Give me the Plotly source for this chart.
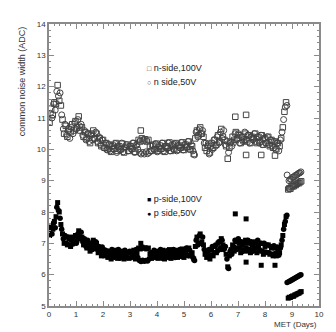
import plotly.graph_objects as go

# measurement times (days) for the 100V and 50V runs
x_100 = [0.02,0.08,0.14,0.20,0.26,0.32,0.38,0.44,0.50,0.56,0.62,0.68,0.74,0.80,0.86,0.92,0.98,1.04,1.10,1.16,
         1.22,1.28,1.34,1.40,1.46,1.52,1.58,1.64,1.70,1.76,1.82,1.88,1.94,2.00,2.06,2.12,2.18,2.24,2.30,2.36,
         2.42,2.48,2.54,2.60,2.66,2.72,2.78,2.84,2.90,2.96,3.02,3.08,3.14,3.20,3.26,3.32,3.38,3.44,3.50,3.56,
         3.62,3.68,3.74,3.80,3.86,3.92,3.98,4.04,4.10,4.16,4.22,4.28,4.34,4.40,4.46,4.52,4.58,4.64,4.70,4.76,
         4.82,4.88,4.94,5.00,5.06,5.12,5.18,5.24,5.30,5.36,5.42,5.48,5.54,5.60,5.66,5.72,5.78,5.84,5.90,5.96,
         6.02,6.08,6.14,6.20,6.26,6.32,6.38,6.44,6.50,6.56,6.62,6.68,6.74,6.80,6.86,6.92,6.98,7.04,7.10,7.16,
         7.22,7.28,7.34,7.40,7.46,7.52,7.58,7.64,7.70,7.76,7.82,7.88,7.94,8.00,8.06,8.12,8.18,8.24,8.30,8.36,
         8.42,8.48,8.54,8.60,8.66,8.72,8.78,
         8.86,8.90,8.94,8.98,9.02,9.06,9.10,9.14,9.18,9.22,9.26,9.30,9.34,
         3.40,6.90,7.30,7.30,7.86,8.37]
x_50 = [0.05,0.11,0.17,0.23,0.29,0.35,0.41,0.47,0.53,0.59,0.65,0.71,0.77,0.83,0.89,0.95,1.01,1.07,1.13,1.19,
        1.25,1.31,1.37,1.43,1.49,1.55,1.61,1.67,1.73,1.79,1.85,1.91,1.97,2.03,2.09,2.15,2.21,2.27,2.33,2.39,
        2.45,2.51,2.57,2.63,2.69,2.75,2.81,2.87,2.93,2.99,3.05,3.11,3.17,3.23,3.29,3.35,3.41,3.47,3.53,3.59,
        3.65,3.71,3.77,3.83,3.89,3.95,4.01,4.07,4.13,4.19,4.25,4.31,4.37,4.43,4.49,4.55,4.61,4.67,4.73,4.79,
        4.85,4.91,4.97,5.03,5.09,5.15,5.21,5.27,5.33,5.39,5.45,5.51,5.57,5.63,5.69,5.75,5.81,5.87,5.93,5.99,
        6.05,6.11,6.17,6.23,6.29,6.35,6.41,6.47,6.53,6.59,6.65,6.71,6.77,6.83,6.89,6.95,7.01,7.07,7.13,7.19,
        7.25,7.31,7.37,7.43,7.49,7.55,7.61,7.67,7.73,7.79,7.85,7.91,7.97,8.03,8.09,8.15,8.21,8.27,8.33,8.39,
        8.45,8.51,8.57,8.63,8.69,8.75,8.81,
        8.82,8.89,8.93,8.97,9.01,9.05,9.09,9.13,9.17,9.21,9.25,9.29,9.33]

n_100 = [10.85,11.30,11.10,11.50,11.45,12.05,11.55,11.40,10.95,10.50,10.75,10.40,10.65,10.55,10.80,10.60,10.90,10.70,11.05,10.60,
         10.70,10.40,10.55,10.35,10.50,10.20,10.50,10.60,10.35,10.50,10.20,10.35,10.10,10.30,10.05,10.20,10.00,10.15,9.92,10.12,
         10.02,10.20,9.95,10.10,10.00,10.18,9.90,10.08,10.15,9.95,10.10,10.02,10.20,9.92,10.15,10.30,10.25,10.35,10.28,10.32,
         10.25,10.30,10.10,9.95,10.15,10.00,10.18,9.95,10.12,10.02,10.20,9.92,10.10,10.05,10.22,9.95,10.15,10.00,10.20,9.98,
         10.12,10.05,10.22,9.98,10.15,10.08,10.25,10.00,10.10,9.85,10.35,10.60,10.45,10.70,10.50,10.40,10.05,9.95,10.15,9.90,
         10.20,10.05,10.30,10.15,10.45,10.25,10.65,10.40,10.30,10.10,9.70,10.05,10.25,10.40,10.30,10.55,10.35,10.45,10.20,10.40,
         10.30,10.50,10.25,10.45,10.20,10.40,10.35,10.50,10.20,10.40,10.25,10.45,10.15,10.35,10.20,10.40,10.10,10.30,10.05,10.25,
         10.00,10.20,10.10,10.35,10.70,11.20,11.50,
         8.72,8.76,8.74,8.80,8.83,8.82,8.87,8.86,8.90,8.93,8.92,8.96,8.98,
         10.60,11.04,11.10,9.82,9.82,9.80]
n_50 = [11.15,11.00,11.45,11.25,11.85,11.70,11.80,11.10,10.65,10.80,10.45,10.60,10.35,10.70,10.50,10.85,10.65,10.95,10.75,10.80,
        10.45,10.60,10.30,10.50,10.25,10.45,10.30,10.35,10.55,10.25,10.40,10.15,10.30,10.05,10.20,9.98,10.15,9.95,10.10,10.00,
        10.18,9.90,10.08,9.98,10.20,9.92,10.05,10.15,9.95,10.10,10.00,10.20,9.90,10.12,10.00,9.90,9.85,9.90,9.85,9.92,
        9.86,9.90,9.95,10.12,10.00,10.18,9.92,10.08,10.00,10.20,9.95,10.10,10.02,10.20,9.95,10.12,10.00,10.18,9.95,10.12,
        10.05,10.22,9.98,10.15,10.05,10.25,10.00,10.15,9.95,9.82,10.55,10.40,10.65,10.50,10.60,10.20,10.20,10.10,9.85,10.10,
        10.00,10.30,10.10,10.40,10.20,10.55,10.35,10.60,10.15,10.25,9.90,10.20,10.10,10.20,10.50,10.30,10.50,10.20,10.40,10.25,
        10.55,10.30,10.45,10.20,10.40,10.30,10.50,10.25,10.40,10.20,10.45,10.15,10.35,10.20,10.40,10.15,10.30,10.10,10.25,10.00,
        10.20,9.95,10.30,10.55,10.95,11.35,11.40,
        9.18,9.00,9.04,9.05,9.10,9.12,9.13,9.17,9.18,9.21,9.24,9.25,9.28]

p_100 = [7.25,7.55,7.45,7.70,7.85,8.30,8.00,7.60,7.30,7.00,7.20,6.95,7.15,6.90,7.20,7.05,7.25,7.10,7.40,7.15,
         7.20,6.95,7.05,6.85,7.00,6.75,6.95,7.10,6.85,7.00,6.70,6.85,6.60,6.80,6.60,6.75,6.55,6.70,6.50,6.72,
         6.60,6.78,6.52,6.68,6.58,6.75,6.50,6.65,6.72,6.52,6.70,6.60,6.78,6.50,6.70,6.85,6.82,6.88,6.84,6.86,
         6.82,6.85,6.65,6.52,6.70,6.58,6.75,6.52,6.68,6.60,6.78,6.50,6.66,6.62,6.80,6.52,6.70,6.58,6.78,6.55,
         6.72,6.62,6.82,6.55,6.75,6.62,6.85,6.60,6.70,6.50,6.90,7.20,7.00,7.30,7.05,6.95,6.65,6.55,6.75,6.50,
         6.80,6.60,6.90,6.70,7.00,6.80,7.15,6.95,6.85,6.65,6.25,6.60,6.80,6.95,6.75,7.05,6.85,7.00,6.70,6.95,
         6.80,7.10,6.75,7.00,6.70,6.95,6.85,7.05,6.70,6.95,6.75,7.00,6.65,6.90,6.70,6.95,6.65,6.85,6.60,6.85,
         6.60,6.80,6.70,6.95,7.25,7.60,7.85,
         5.25,5.28,5.27,5.30,5.32,5.31,5.35,5.36,5.38,5.40,5.41,5.44,5.46,
         7.00,7.94,7.78,6.40,6.30,6.30]
p_50 = [7.45,7.30,7.65,7.50,8.15,8.05,7.80,7.45,7.15,7.25,7.00,7.20,6.95,7.10,6.98,7.20,7.00,7.30,7.20,7.35,
        7.05,7.15,6.90,7.10,6.85,7.00,6.80,6.95,7.05,6.80,6.90,6.72,6.88,6.65,6.78,6.60,6.75,6.58,6.80,6.55,
        6.70,6.62,6.80,6.52,6.70,6.62,6.78,6.55,6.68,6.75,6.55,6.72,6.60,6.80,6.55,6.45,6.42,6.46,6.43,6.45,
        6.44,6.50,6.70,6.58,6.78,6.55,6.70,6.60,6.80,6.52,6.72,6.58,6.76,6.55,6.70,6.62,6.80,6.55,6.72,6.60,
        6.80,6.58,6.75,6.65,6.85,6.60,6.78,6.65,6.55,6.45,7.10,6.95,7.25,7.00,7.20,6.80,6.70,6.60,6.80,6.62,
        6.90,6.70,6.95,6.75,7.05,6.85,7.10,6.80,6.90,6.50,6.20,6.75,6.65,6.90,7.10,6.80,7.15,6.85,7.05,6.75,
        7.00,6.85,7.10,6.80,7.05,6.75,7.00,6.85,7.10,6.80,7.00,6.75,7.00,6.72,6.95,6.70,6.90,6.65,6.92,6.68,
        6.88,6.62,6.85,7.10,7.45,7.70,7.90,
        5.75,5.78,5.80,5.82,5.84,5.86,5.88,5.90,5.92,5.94,5.96,5.98,6.00]

x_ticks = [0, 1, 2, 3, 4, 5, 6, 7, 8, 9, 10]
y_ticks = [5, 6, 7, 8, 9, 10, 11, 12, 13, 14]

GRAY = "#444444"
AX = "#8a8a8a"
FONT = "Liberation Sans, Arial, sans-serif"

fig = go.Figure()
fig.add_trace(go.Scatter(x=x_100, y=n_100, mode="markers", name="n-side,100V",
                         marker=dict(symbol="square-open", size=5.5, color=GRAY, line=dict(width=1, color=GRAY))))
fig.add_trace(go.Scatter(x=x_50, y=n_50, mode="markers", name="n side,50V",
                         marker=dict(symbol="circle-open", size=6, color=GRAY, line=dict(width=1, color=GRAY))))
fig.add_trace(go.Scatter(x=x_100, y=p_100, mode="markers", name="p-side,100V",
                         marker=dict(symbol="square", size=5, color="black")))
fig.add_trace(go.Scatter(x=x_50, y=p_50, mode="markers", name="p side,50V",
                         marker=dict(symbol="circle", size=5.5, color="black")))

axis_common = dict(showline=True, linecolor=AX, linewidth=1.5, mirror="allticks",
                   ticks="inside", ticklen=5, tickcolor=AX, tickwidth=1,
                   showgrid=False, zeroline=False,
                   tickfont=dict(family=FONT, size=8, color="#333333"))

fig.update_xaxes(range=[0, 10], tickvals=x_ticks,
                 minor=dict(dtick=0.2, ticks="inside", ticklen=2.5, tickcolor=AX, showgrid=False),
                 **axis_common)
fig.update_yaxes(range=[5, 14], tickvals=y_ticks,
                 minor=dict(dtick=0.2, ticks="inside", ticklen=2.5, tickcolor=AX, showgrid=False),
                 **axis_common)

legend_font = dict(family=FONT, size=9, color="#222222")
legend_rows = [("\u25a1", GRAY, "n-side,100V", 0.844),
               ("\u25cb", GRAY, "n side,50V", 0.794),
               ("\u25a0", "black", "p-side,100V", 0.379),
               ("\u25cf", "black", "p side,50V", 0.330)]
annotations = [
    dict(text="common noise width (ADC)", xref="paper", yref="paper", x=-0.099, y=1.0,
         xanchor="center", yanchor="top", textangle=-90, showarrow=False,
         font=dict(family=FONT, size=9, color="#333333")),
    dict(text="MET (Days)", xref="paper", yref="paper", x=1.0, y=-0.042,
         xanchor="right", yanchor="top", showarrow=False,
         font=dict(family=FONT, size=8, color="#333333")),
]
for glyph, gcol, label, ypos in legend_rows:
    annotations.append(dict(text=f"<span style='color:{gcol};font-size:7px'>{glyph}</span> {label}",
                            xref="paper", yref="paper", x=0.355, y=ypos,
                            xanchor="left", yanchor="middle", showarrow=False, font=legend_font))

fig.update_layout(
    width=328, height=324,
    margin=dict(l=41, r=14, t=16, b=26),
    paper_bgcolor="white", plot_bgcolor="white",
    showlegend=False,
    annotations=annotations,
)

fig.write_html("out.html")
